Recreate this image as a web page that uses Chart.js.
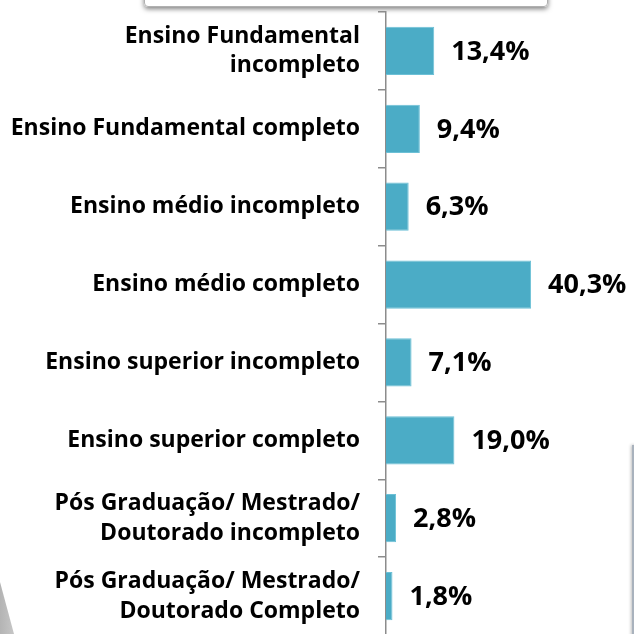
<!DOCTYPE html>
<html lang="pt">
<head>
<meta charset="UTF-8">
<title>Escolaridade</title>
<script src="https://cdn.jsdelivr.net/npm/chart.js"></script>
<style>
  html, body { margin: 0; padding: 0; background: #fff; overflow: hidden; }
  body { width: 634px; height: 634px; position: relative; }
  .chart-box { position: absolute; left: 0; top: 0; width: 634px; height: 640px; }
  /* restos do slide ao fundo */
  .frame-top {
    position: absolute; left: 144px; top: -40px; width: 402px; height: 45px;
    border: 1px solid #b0b0b0; border-radius: 4px;
    box-shadow: 0 2px 5px rgba(0,0,0,0.5);
  }
  .frame-right {
    position: absolute; left: 632px; top: 445px; width: 20px; height: 200px;
    border-left: 2px solid #a9b2bd; box-shadow: -1px 0 3px rgba(0,0,0,0.25);
  }
  .wedge {
    position: absolute; left: 0; top: 582px; width: 14px; height: 52px;
    background: linear-gradient(90deg, #b4b4b4, #c6c6c6);
    clip-path: polygon(0 0, 100% 100%, 0 100%);
  }
</style>
</head>
<body>
<div class="frame-top"></div>
<div class="frame-right"></div>
<div class="wedge"></div>
<div class="chart-box">
  <canvas id="myChart" width="634" height="640"></canvas>
</div>
<script>
// dados
const categorias = [
  ["Ensino Fundamental", "incompleto"],
  "Ensino Fundamental completo",
  "Ensino médio incompleto",
  "Ensino médio completo",
  "Ensino superior incompleto",
  "Ensino superior completo",
  ["Pós Graduação/ Mestrado/", "Doutorado incompleto"],
  ["Pós Graduação/ Mestrado/", "Doutorado Completo"]
];
const percentuais = [13.4, 9.4, 6.3, 40.3, 7.1, 19.0, 2.8, 1.8];

const fonte = "'Open Sans', 'Liberation Sans', sans-serif";

// rótulos de valor à direita das barras
const rotulosValor = {
  id: 'rotulosValor',
  afterDatasetsDraw(chart) {
    const ctx = chart.ctx;
    const meta = chart.getDatasetMeta(0);
    ctx.save();
    ctx.font = "bold 27px " + fonte;
    ctx.fillStyle = '#000';
    ctx.textAlign = 'left';
    ctx.textBaseline = 'middle';
    meta.data.forEach((bar, i) => {
      const txt = percentuais[i].toFixed(1).replace('.', ',') + '%';
      ctx.fillText(txt, bar.x + 17, bar.y + 1);
    });
    ctx.restore();
  }
};

const ctx = document.getElementById('myChart').getContext('2d');
const myChart = new Chart(ctx, {
  type: 'bar',
  data: {
    labels: categorias,
    datasets: [{
      data: percentuais,
      backgroundColor: '#4bacc6',
      borderColor: '#6cc0d6',
      borderWidth: 1,
      barPercentage: 0.62,
      categoryPercentage: 1
    }]
  },
  options: {
    indexAxis: 'y',
    responsive: false,
    animation: false,
    layout: { padding: { top: 12, bottom: 5, left: 0, right: 32 } },
    plugins: {
      legend: { display: false },
      tooltip: { enabled: false }
    },
    scales: {
      x: {
        display: false,
        min: 0,
        max: 60
      },
      y: {
        afterFit(scale) {
          scale.width = 386;
          scale.paddingTop = 0;
          scale.paddingBottom = 0;
        },
        grid: {
          offset: true,
          drawOnChartArea: false,
          drawTicks: true,
          tickLength: 8,
          color: '#8c8c8c',
          lineWidth: 1.5
        },
        border: { color: '#8c8c8c', width: 1.5 },
        ticks: {
          padding: 18,
          color: '#000',
          font: { family: fonte, size: 23, weight: 'bold', lineHeight: 1.3 }
        }
      }
    }
  },
  plugins: [rotulosValor]
});
</script>
</body>
</html>
